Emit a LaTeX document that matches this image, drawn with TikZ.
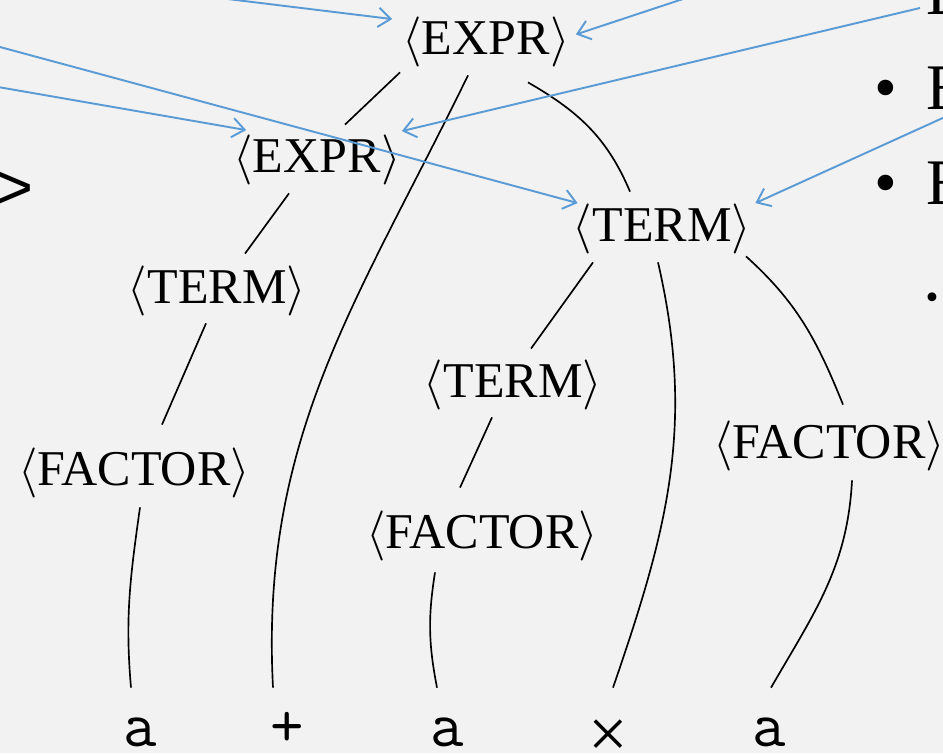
\documentclass[tikz,border=0pt]{standalone}
\usepackage{fontspec}
\setmainfont{Liberation Serif}
\newfontfamily\slidesans{Liberation Sans}
\usetikzlibrary{arrows.meta}
\DeclareFontFamily{OMS}{cmsy}{\skewchar\font48}
\DeclareFontShape{OMS}{cmsy}{m}{n}{<->cmsy10}{}
\definecolor{PTBack}{HTML}{F2F2F2}
\definecolor{PTBlue}{HTML}{5B9BD5}

\begin{document}
\begin{tikzpicture}[x=1cm,y=1cm,
  nt/.style={anchor=base,inner sep=0pt,font=\fontsize{28.5}{30}\selectfont},
  leaf/.style={anchor=base,inner sep=0pt,text height=1.16cm,text depth=0pt,font=\fontsize{37}{40}\selectfont\ttfamily},
  slide/.style={anchor=base west,inner sep=0pt,font=\fontsize{37}{40}\selectfont},
  treeline/.style={line width=0.95pt},
  ptr/.style={PTBlue,line width=1.1pt,-{Straight Barb[length=7pt,width=11pt]}}]
\path[use as bounding box,fill=PTBack] (0,0) rectangle (18.86,15.06);
\clip (0,0) rectangle (18.86,15.06);
% parse tree
\node[nt] (expr) at (9.72,13.96) {$\langle$EXPR$\rangle$};
\node[nt] (expr2) at (6.34,11.60) {$\langle$EXPR$\rangle$};
\node[nt] (termR) at (13.24,10.24) {$\langle$TERM$\rangle$};
\node[nt] (termL) at (4.34,9.00) {$\langle$TERM$\rangle$};
\node[nt] (termM) at (10.26,7.12) {$\langle$TERM$\rangle$};
\node[nt] (factL) at (2.68,5.36) {$\langle$FACTOR$\rangle$};
\node[nt] (factM) at (9.64,4.10) {$\langle$FACTOR$\rangle$};
\node[nt] (factR) at (16.58,5.90) {$\langle$FACTOR$\rangle$};
\node[leaf] (a1) at (2.80,0.14) {a};
\node[leaf] (plus) at (5.74,0.14) {+};
\node[leaf] (a3) at (8.94,0.14) {a};
\node[leaf,text height=1.38cm,font=\fontsize{40}{42}\selectfont\rmfamily] (times) at (12.16,-0.08) {×};
\node[leaf] (a5) at (15.38,0.14) {a};
\draw[treeline] ([shift={(-1.72,-0.09)}]expr.south) -- ([shift={(0.56,0.21)}]expr2.north);
\draw[treeline] ([shift={(-0.36,-0.15)}]expr.south) to[out=-116,in=93] ([xshift=-0.28cm]plus.north);
\draw[treeline] ([shift={(0.84,-0.29)}]expr.south) to[out=-30,in=113] ([shift={(-0.64,0.23)}]termR.north);
\draw[treeline] ([shift={(-0.56,-0.15)}]expr2.south) -- ([shift={(0.56,0.23)}]termL.north);
\draw[treeline] ([shift={(-0.22,-0.15)}]termL.south) -- ([shift={(0.56,0.45)}]factL.north);
\draw[treeline] ([shift={(0.12,-0.19)}]factL.south) to[out=-98,in=95] ([xshift=-0.18cm]a1.north);
\draw[treeline] ([shift={(-1.38,-0.17)}]termR.south) -- ([shift={(0.36,0.21)}]termM.north);
\draw[treeline] ([shift={(-0.08,-0.17)}]termR.south) to[out=-77,in=71] ([xshift=0.1cm]times.north);
\draw[treeline] ([shift={(1.68,-0.05)}]termR.south) to[out=-42,in=112] ([shift={(0.28,0.31)}]factR.north);
\draw[treeline] ([shift={(-0.42,-0.15)}]termM.south) -- ([shift={(-0.44,0.45)}]factM.north);
\draw[treeline] ([shift={(-0.94,-0.23)}]factM.south) to[out=-99,in=101] ([xshift=-0.2cm]a3.north);
\draw[treeline] ([shift={(0.46,-0.19)}]factR.south) to[out=-93,in=60] ([xshift=0.04cm]a5.north);
% slide text cut off at the edges
\node[slide,font=\fontsize{37}{40}\selectfont\slidesans] (gt) at (-0.09,10.86) {>};
\node[slide] (txt1) at (18.52,14.76) {E};
\node[slide,anchor=base] (dot2) at (17.72,12.86) {\textbullet};
\node[slide] (txt2) at (18.52,12.86) {E};
\node[slide,anchor=base] (dot3) at (17.72,10.96) {\textbullet};
\node[slide] (txt3) at (18.52,10.96) {E};
\node[slide,anchor=base,font=\fontsize{21}{24}\selectfont] (dot4) at (18.64,8.88) {\textbullet};
% pointers
\coordinate (srcA) at (-2.0,15.88);
\coordinate (srcB) at (20.0,17.18);
\coordinate (srcC) at (-2.0,14.66);
\coordinate (srcD) at (-2.0,13.66);
\coordinate (srcE) at (18.40,14.90);
\coordinate (srcF) at (20.0,13.22);
\draw[ptr] (srcA) -- ([shift={(-0.2,-0.04)}]expr.north west);
\draw[ptr] (srcB) -- ([shift={(0.12,0.16)}]expr.east);
\draw[ptr] (srcC) -- ([xshift=0.1cm]termR.north west);
\draw[ptr] (srcD) -- ([shift={(0.26,0.1)}]expr2.north west);
\draw[ptr] (srcE) -- ([shift={(0.02,0.08)}]expr2.north east);
\draw[ptr] (srcF) -- ([xshift=0.08cm]termR.north east);
\end{tikzpicture}
\end{document}
